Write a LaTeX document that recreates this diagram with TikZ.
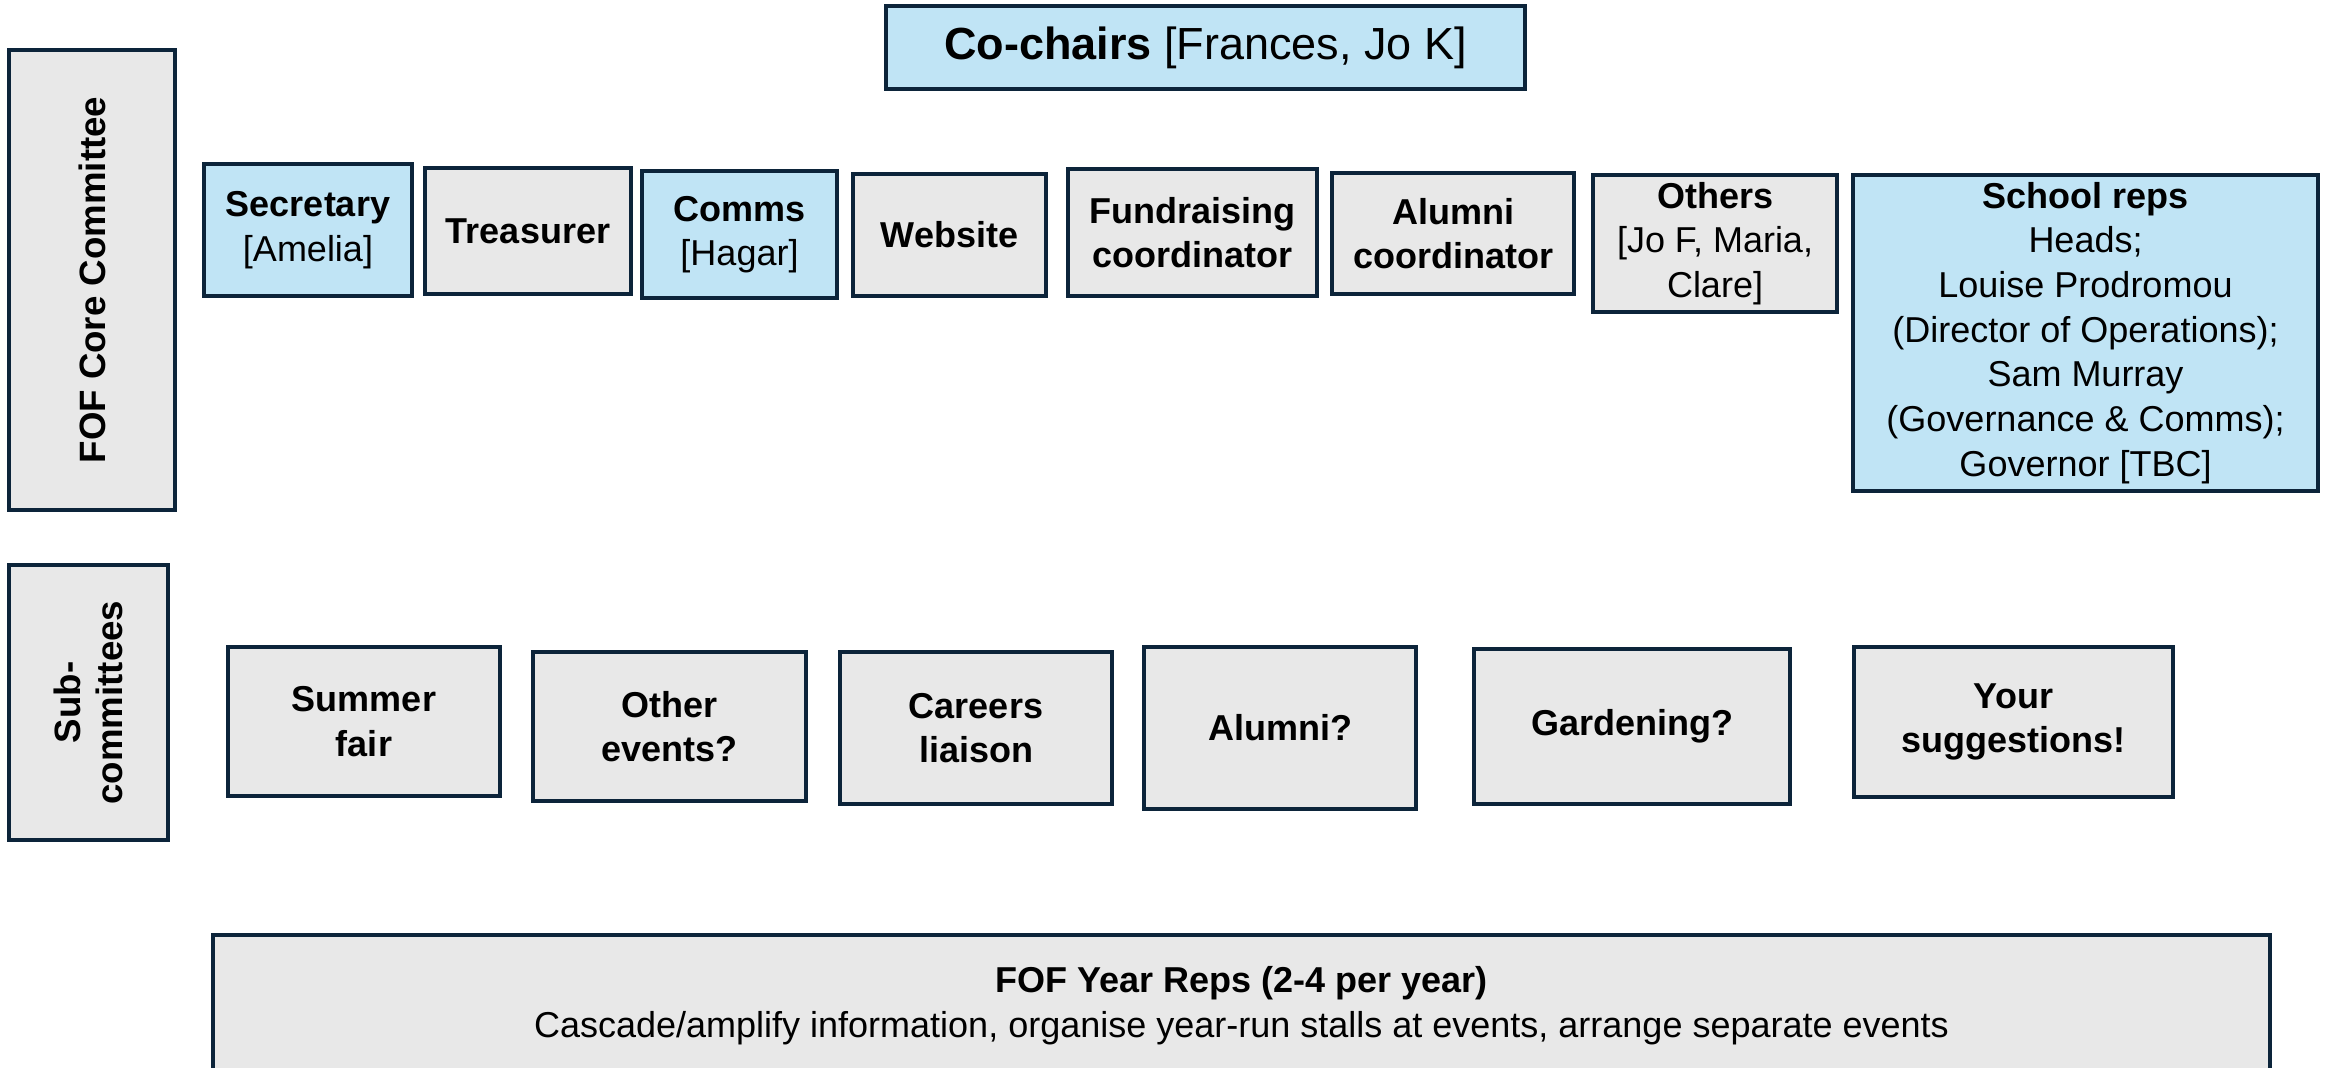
\documentclass[tikz,border=0pt]{standalone}
\usepackage{fontspec}
\setmainfont{Liberation Sans}
\definecolor{bluefill}{RGB}{192,228,245}
\definecolor{grayfill}{RGB}{232,232,232}
\definecolor{edgecol}{RGB}{12,36,58}
\tikzset{
  basebox/.style={draw=edgecol, line width=1.1pt, align=center, inner sep=0pt,
    font=\fontsize{10.8}{13.4}\selectfont},
  gbox/.style={basebox, fill=grayfill},
  bbox/.style={basebox, fill=bluefill},
  sz/.style n args={2}{minimum width=#1*0.3pt, minimum height=#2*0.3pt},
  sidelabel/.style={gbox, rotate=90, font=\fontsize{11}{12.5}\selectfont\bfseries}
}
\begin{document}
\begin{tikzpicture}[x=0.3pt, y=-0.3pt]
\useasboundingbox (0,0) rectangle (2333,1067);
% side labels
\node[sidelabel, sz={460}{166}] (core) at (92,280) {FOF Core Committee};
\node[sidelabel, sz={275}{159}] (sub) at (88.5,702.5) {Sub-\\committees};
% co-chairs
\node[bbox, sz={639}{83}, font=\fontsize{13.5}{16}\selectfont] (chairs) at (1205.5,47.5) {\raisebox{-1.2pt}{\textbf{Co-chairs} [Frances, Jo K]}};
% core row
\node[bbox, sz={208}{132}] (sec) at (308,230) {\textbf{Secretary}\\{[}Amelia]};
\node[gbox, sz={206}{126}] (treas) at (528,231) {\textbf{Treasurer}};
\node[bbox, sz={195}{127}] (comms) at (739.5,234.5) {\textbf{Comms}\\{[}Hagar]};
\node[gbox, sz={193}{122}] (web) at (949.5,235) {\textbf{Website}};
\node[gbox, sz={249}{127}] (fund) at (1192.5,232.5) {\textbf{Fundraising}\\\textbf{coordinator}};
\node[gbox, sz={242}{121}] (alum) at (1453,233.5) {\textbf{Alumni}\\\textbf{coordinator}};
\node[gbox, sz={244}{137}] (others) at (1715,243.5) {\textbf{Others}\\{[}Jo F, Maria,\\Clare]};
\node[bbox, sz={465}{316}] (school) at (2085.5,333) {\textbf{School reps}\\Heads;\\Louise Prodromou\\(Director of Operations);\\Sam Murray\\(Governance \& Comms);\\Governor [TBC]};
% sub-committee row
\node[gbox, sz={272}{149}] (summer) at (364,721.5) {\textbf{Summer}\\\textbf{fair}};
\node[gbox, sz={273}{149}] (otherev) at (669.5,726.5) {\textbf{Other}\\\textbf{events?}};
\node[gbox, sz={272}{152}] (careers) at (976,728) {\textbf{Careers}\\\textbf{liaison}};
\node[gbox, sz={272}{162}] (alumq) at (1280,728) {\textbf{Alumni?}};
\node[gbox, sz={316}{155}] (garden) at (1632,726.5) {\raisebox{-1.2pt}{\textbf{Gardening?}}};
\node[gbox, sz={319}{150}] (yours) at (2013.5,722) {\textbf{Your}\\\textbf{suggestions!}};
% year reps
\node[gbox, sz={2057}{142}] (reps) at (1241.5,1006) {\textbf{FOF Year Reps (2-4 per year)}\\Cascade/amplify information, organise year-run stalls at events, arrange separate events};
\end{tikzpicture}
\end{document}
